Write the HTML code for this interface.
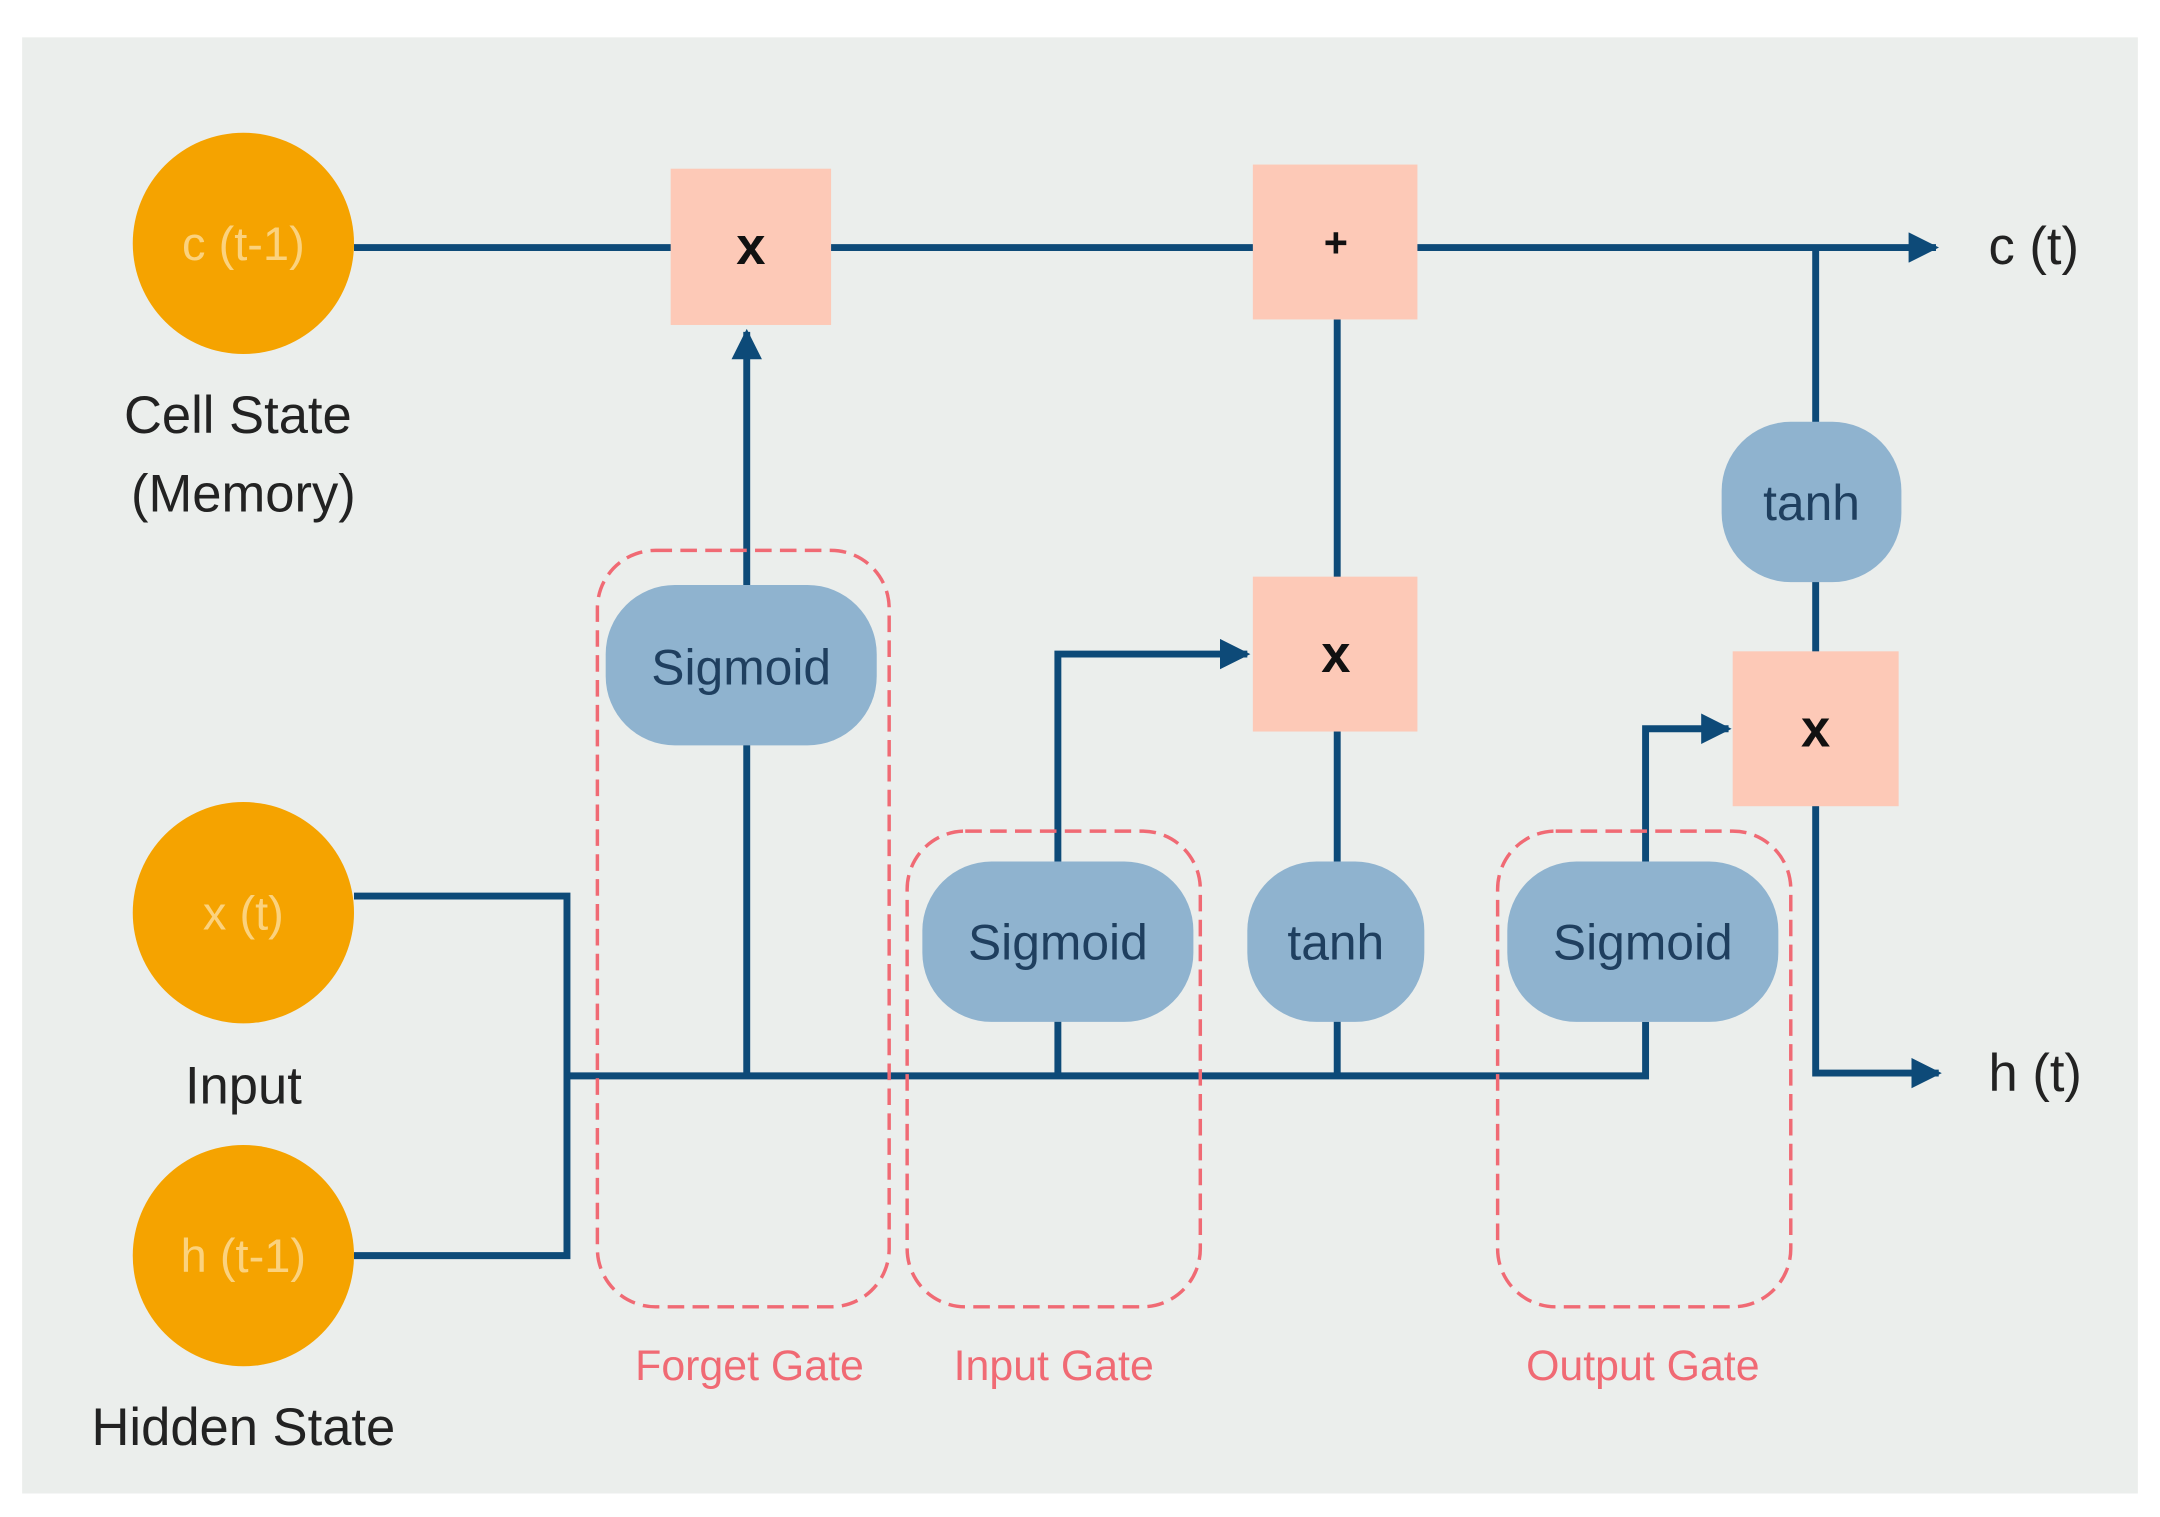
<!DOCTYPE html>
<html><head><meta charset="utf-8"><style>html,body{margin:0;padding:0;background:#fff}svg{display:block}</style></head>
<body>
<svg width="2160" height="1517" viewBox="0 0 1562 1097" preserveAspectRatio="none" xmlns="http://www.w3.org/2000/svg" font-family="Liberation Sans, DejaVu Sans, sans-serif">
<defs><marker id="a" markerWidth="6" markerHeight="6" refX="5" refY="3" orient="auto" markerUnits="userSpaceOnUse" viewBox="0 0 6 6"><path d="M0,0L6,3L0,6z" fill="#0d4a78"/></marker>
<marker id="ah" viewBox="0 0 10 10" refX="9" refY="5" markerWidth="22" markerHeight="22" markerUnits="userSpaceOnUse" orient="auto"><path d="M0,0L10,5L0,10z" fill="#0d4a78"/></marker></defs>
<rect x="0" y="0" width="1562" height="1097" fill="#fff"/>
<rect x="16" y="27" width="1530" height="1053" fill="#ebeeec"/>
<g stroke="#0d4a78" stroke-width="5" fill="none">
<line x1="256" y1="179" x2="1400" y2="179" marker-end="url(#ah)"/>
<polyline points="256,648 410,648 410,908 256,908"/>
<polyline points="410,778 1190,778 1190,739"/>
<line x1="540" y1="778" x2="540" y2="240" marker-end="url(#ah)"/>
<polyline points="765,778 765,473 902,473" marker-end="url(#ah)"/>
<line x1="967" y1="778" x2="967" y2="231"/>
<polyline points="1190,623 1190,527 1250,527" marker-end="url(#ah)"/>
<polyline points="1313,179 1313,776 1402,776" marker-end="url(#ah)"/>
</g>
<g fill="#f5a300"><circle cx="176" cy="176" r="80"/><circle cx="176" cy="660" r="80"/><circle cx="176" cy="908" r="80"/></g>
<g fill="#fbd27e" font-size="34" text-anchor="middle"><text x="176" y="188">c (t-1)</text><text x="176" y="672">x (t)</text><text x="176" y="920">h (t-1)</text></g>
<g fill="#222" font-size="38" text-anchor="middle"><text x="172" y="313">Cell State</text><text x="176" y="370">(Memory)</text><text x="176" y="798">Input</text><text x="176" y="1045">Hidden State</text></g>
<g fill="#fdc9b7"><rect x="485" y="122" width="116" height="113"/><rect x="906" y="119" width="119" height="112"/><rect x="906" y="417" width="119" height="112"/><rect x="1253" y="471" width="120" height="112"/></g>
<g fill="#111" font-size="38" font-weight="bold" text-anchor="middle"><text x="543" y="191">x</text><text x="966" y="186" font-size="30">+</text><text x="966" y="486">x</text><text x="1313" y="540">x</text></g>
<g fill="#8fb3cf"><rect x="438" y="423" width="196" height="116" rx="50"/><rect x="667" y="623" width="196" height="116" rx="50"/><rect x="902" y="623" width="128" height="116" rx="50"/><rect x="1090" y="623" width="196" height="116" rx="50"/><rect x="1245" y="305" width="130" height="116" rx="50"/></g>
<g fill="#1f3f5f" font-size="36" text-anchor="middle"><text x="536" y="495">Sigmoid</text><text x="765" y="694">Sigmoid</text><text x="966" y="694">tanh</text><text x="1188" y="694">Sigmoid</text><text x="1310" y="376">tanh</text></g>
<g fill="none" stroke="#f06a74" stroke-width="2.5" stroke-dasharray="12,6"><rect x="432" y="398" width="211" height="547" rx="42"/><rect x="656" y="601" width="212" height="344" rx="42"/><rect x="1083" y="601" width="212" height="344" rx="42"/></g>
<g fill="#f06a74" font-size="31" text-anchor="middle"><text x="542" y="998">Forget Gate</text><text x="762" y="998">Input Gate</text><text x="1188" y="998">Output Gate</text></g>
<g fill="#222" font-size="38"><text x="1438" y="191">c (t)</text><text x="1438" y="789">h (t)</text></g>
</svg>
</body></html>
